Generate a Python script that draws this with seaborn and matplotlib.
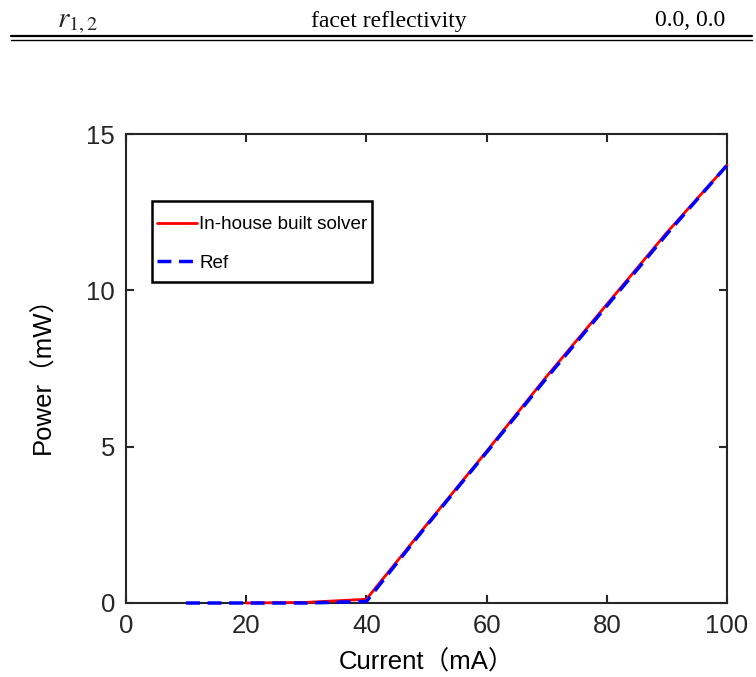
import matplotlib
matplotlib.use("Agg")
import matplotlib.pyplot as plt
from matplotlib.lines import Line2D
from matplotlib.patches import Rectangle
import seaborn as sns
import pandas as pd

# Data
solver_current = [20, 30, 40, 50, 60, 70, 80, 90, 100]
solver_power = [0.0, 0.02, 0.12, 2.5, 4.85, 7.25, 9.55, 11.85, 14.0]
ref_current = [10, 20, 30, 40, 50, 60, 70, 80, 90, 100]
ref_power = [0.0, 0.0, 0.0, 0.05, 2.47, 4.82, 7.2, 9.5, 11.8, 14.0]
series_names = ["In-house built solver", "Ref"]
x_ticks = [0, 20, 40, 60, 80, 100]
y_ticks = [0, 5, 10, 15]

sns.set_theme(style="white")
plt.rcParams['font.family'] = ['Liberation Sans', 'Noto Sans CJK SC', 'DejaVu Sans']
plt.rcParams['mathtext.fontset'] = 'stix'

df = pd.concat([
    pd.DataFrame({"Current": solver_current, "Power": solver_power, "Series": series_names[0]}),
    pd.DataFrame({"Current": ref_current, "Power": ref_power, "Series": series_names[1]}),
])

fig = plt.figure(figsize=(7.56, 6.77), dpi=100)
ax = fig.add_axes([126/756, 1 - 603/677, 601/756, 469/677])

sns.lineplot(data=df[df.Series == series_names[0]], x="Current", y="Power",
             color="#ff0000", lw=2, ax=ax, label=series_names[0])
sns.lineplot(data=df[df.Series == series_names[1]], x="Current", y="Power",
             color="#0000ff", lw=2.5, ls=(0, (4, 2.2)), ax=ax, label=series_names[1])
for ln in ax.lines:
    ln.set_clip_on(False)
    ln.set_zorder(5)

ax.set_xlim(0, 100)
ax.set_ylim(0, 15)
ax.set_xticks(x_ticks)
ax.set_yticks(y_ticks)
ax.tick_params(direction='in', length=6, width=1.5, colors='#262626',
               labelsize=18.5, top=True, right=True, bottom=True, left=True, pad=8)
for sp in ax.spines.values():
    sp.set_color('#262626')
    sp.set_linewidth(1.5)
ax.set_xlabel("Current（mA）", fontsize=18.5, color='black')
ax.set_ylabel("Power（mW）", fontsize=18.5, color='black')
ax.xaxis.set_label_coords(0.5, -0.1)
ax.yaxis.set_label_coords(-0.118, 0.5)

# Legend (frame drawn as a separate box to match the reference padding)
ax.add_patch(Rectangle(((152 - 126) / 601, (603 - 282) / 469), 220 / 601, 81 / 469,
                       transform=ax.transAxes, fill=True, facecolor='white',
                       edgecolor='black', lw=1.8, zorder=6))
leg = ax.legend(loc='upper left', bbox_to_anchor=((152 - 126) / 601, (603 - 211) / 469),
                fontsize=13.6, frameon=False, handlelength=2.1,
                handleheight=0.7, handletextpad=0.12, borderpad=0.27,
                labelspacing=1.12, borderaxespad=0, labelcolor='black')
leg.set_zorder(7)

# Table row above the chart
fig.text(78/756, 1 - 22/677, r'$r_{1,2}$', fontsize=21, ha='center', va='center')
fig.text(389/756, 1 - 21/677, 'facet reflectivity', fontsize=17, ha='center', va='center',
         family=['Liberation Serif'], color='black')
fig.text(690/756, 1 - 21/677, '0.0, 0.0', fontsize=17, ha='center', va='center',
         family=['Liberation Serif'], color='black')
fig.add_artist(Line2D([11/756, 752/756], [1 - 36/677, 1 - 36/677], color='black', lw=1.6))
fig.add_artist(Line2D([11/756, 752/756], [1 - 40/677, 1 - 40/677], color='black', lw=1.0))

fig.savefig("out.png", dpi=100)
